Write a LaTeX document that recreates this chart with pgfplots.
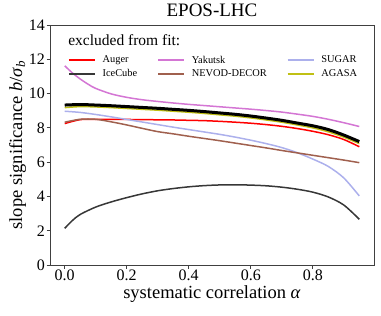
\documentclass[border=0pt]{standalone}
\usepackage{fontspec}
\setmainfont{Liberation Serif}
\usepackage{pgfplots}
\pgfplotsset{compat=1.18}
\definecolor{cAuger}{RGB}{255,0,0}
\definecolor{cYakutsk}{RGB}{212,118,212}
\definecolor{cSugar}{RGB}{172,176,236}
\definecolor{cIce}{RGB}{55,55,55}
\definecolor{cNevod}{RGB}{160,96,78}
\definecolor{cAgasa}{RGB}{192,192,20}
\begin{document}
\begin{tikzpicture}
\begin{axis}[name=ax,
  scale only axis, width=324pt, height=240pt,
  xmin=-0.0475, xmax=0.9975, ymin=0, ymax=14,
  xtick={0,0.2,0.4,0.6,0.8}, ytick={0,2,4,6,8,10,12,14},
  tick align=outside, tick pos=left, major tick length=3.5pt,
  axis line style={draw=black!75, line width=0.8pt},
  every tick/.style={black!75, line width=0.8pt},
  /pgf/number format/assume math mode=true,
  xticklabel={\pgfmathprintnumber[fixed, fixed zerofill, precision=1]{\tick}},
  yticklabel={\pgfmathprintnumber{\tick}},
  tick label style={font=\fontsize{16}{18}\selectfont, inner sep=1.5pt},
  title={EPOS-LHC}, title style={font=\fontsize{19}{21}\selectfont, inner sep=2pt},
  xlabel={systematic correlation \textit{α}},
  ylabel={slope significance \textit{b}/\textit{σ}\textsubscript{\textit{b}}},
  label style={font=\fontsize{18.5}{20}\selectfont},
  xlabel style={inner sep=1pt, yshift=-2pt},
  ylabel style={inner sep=1pt},
  legend columns=3,
  legend cell align=left,
  legend image code/.code={\draw[#1] (0pt,0pt) -- (26pt,0pt);},
  legend style={draw=none, fill=none, font=\fontsize{10.4}{12}\selectfont,
    at={(axis description cs:0.046,0.885)}, anchor=north west,
    nodes={inner sep=1pt}, row sep=3pt,
    /tikz/every even column/.append style={column sep=19pt},
    /tikz/every odd column/.append style={column sep=6pt}},
  every axis plot/.append style={line width=1.5pt, smooth},
]
\addplot[cAuger] coordinates {(0,8.25)(0.05,8.48)(0.1,8.5)(0.15,8.5)(0.2,8.49)(0.25,8.48)(0.3,8.47)(0.35,8.46)(0.4,8.44)(0.45,8.42)(0.5,8.38)(0.55,8.33)(0.6,8.27)(0.65,8.19)(0.7,8.09)(0.75,7.96)(0.8,7.8)(0.85,7.6)(0.9,7.32)(0.95,6.9)};
\addlegendentry{Auger}
\addplot[cYakutsk] coordinates {(0,11.62)(0.025,11.2)(0.05,10.85)(0.075,10.55)(0.1,10.3)(0.15,9.98)(0.2,9.78)(0.25,9.64)(0.3,9.54)(0.35,9.45)(0.4,9.37)(0.45,9.3)(0.5,9.23)(0.55,9.16)(0.6,9.09)(0.65,9.01)(0.7,8.92)(0.75,8.8)(0.8,8.67)(0.85,8.5)(0.9,8.3)(0.95,8.08)};
\addlegendentry{Yakutsk}
\addplot[cSugar] coordinates {(0,8.97)(0.05,8.9)(0.1,8.78)(0.15,8.64)(0.2,8.49)(0.25,8.34)(0.3,8.19)(0.35,8.04)(0.4,7.9)(0.45,7.76)(0.5,7.62)(0.55,7.46)(0.6,7.28)(0.65,7.08)(0.7,6.85)(0.75,6.55)(0.8,6.18)(0.85,5.75)(0.9,5.08)(0.95,4.03)};
\addlegendentry{SUGAR}
\addplot[cIce] coordinates {(0,2.14)(0.025,2.6)(0.05,2.95)(0.1,3.38)(0.15,3.68)(0.2,3.93)(0.25,4.15)(0.3,4.33)(0.35,4.46)(0.4,4.56)(0.45,4.63)(0.5,4.67)(0.55,4.68)(0.6,4.66)(0.65,4.62)(0.7,4.54)(0.75,4.42)(0.8,4.25)(0.85,3.97)(0.9,3.5)(0.95,2.67)};
\addlegendentry{IceCube}
\addplot[cNevod] coordinates {(0,8.33)(0.05,8.5)(0.1,8.5)(0.15,8.35)(0.2,8.17)(0.25,7.97)(0.3,7.78)(0.35,7.65)(0.4,7.51)(0.45,7.38)(0.5,7.25)(0.55,7.11)(0.6,6.97)(0.65,6.83)(0.7,6.68)(0.75,6.54)(0.8,6.4)(0.85,6.26)(0.9,6.12)(0.95,5.97)};
\addlegendentry{NEVOD-DECOR}
\addplot[cAgasa] coordinates {(0,9.18)(0.05,9.24)(0.1,9.22)(0.15,9.18)(0.2,9.13)(0.25,9.08)(0.3,9.03)(0.35,8.97)(0.4,8.91)(0.45,8.84)(0.5,8.76)(0.55,8.68)(0.6,8.58)(0.65,8.46)(0.7,8.33)(0.75,8.17)(0.8,8.0)(0.85,7.77)(0.9,7.46)(0.95,7.08)};
\addlegendentry{AGASA}
\addplot[black, line width=3pt, forget plot] coordinates {(0,9.33)(0.05,9.36)(0.1,9.33)(0.15,9.29)(0.2,9.24)(0.25,9.19)(0.3,9.14)(0.35,9.08)(0.4,9.02)(0.45,8.95)(0.5,8.87)(0.55,8.79)(0.6,8.69)(0.65,8.57)(0.7,8.44)(0.75,8.28)(0.8,8.12)(0.85,7.9)(0.9,7.58)(0.95,7.2)};
\node[anchor=base west, font=\fontsize{15.5}{18}\selectfont, inner sep=0pt] at (axis description cs:0.056,0.915) {excluded from fit:};
\end{axis}
\path[use as bounding box] ([xshift=-50pt,yshift=-50pt]ax.south west) rectangle ([xshift=7pt,yshift=25pt]ax.north east);
\end{tikzpicture}
\end{document}
